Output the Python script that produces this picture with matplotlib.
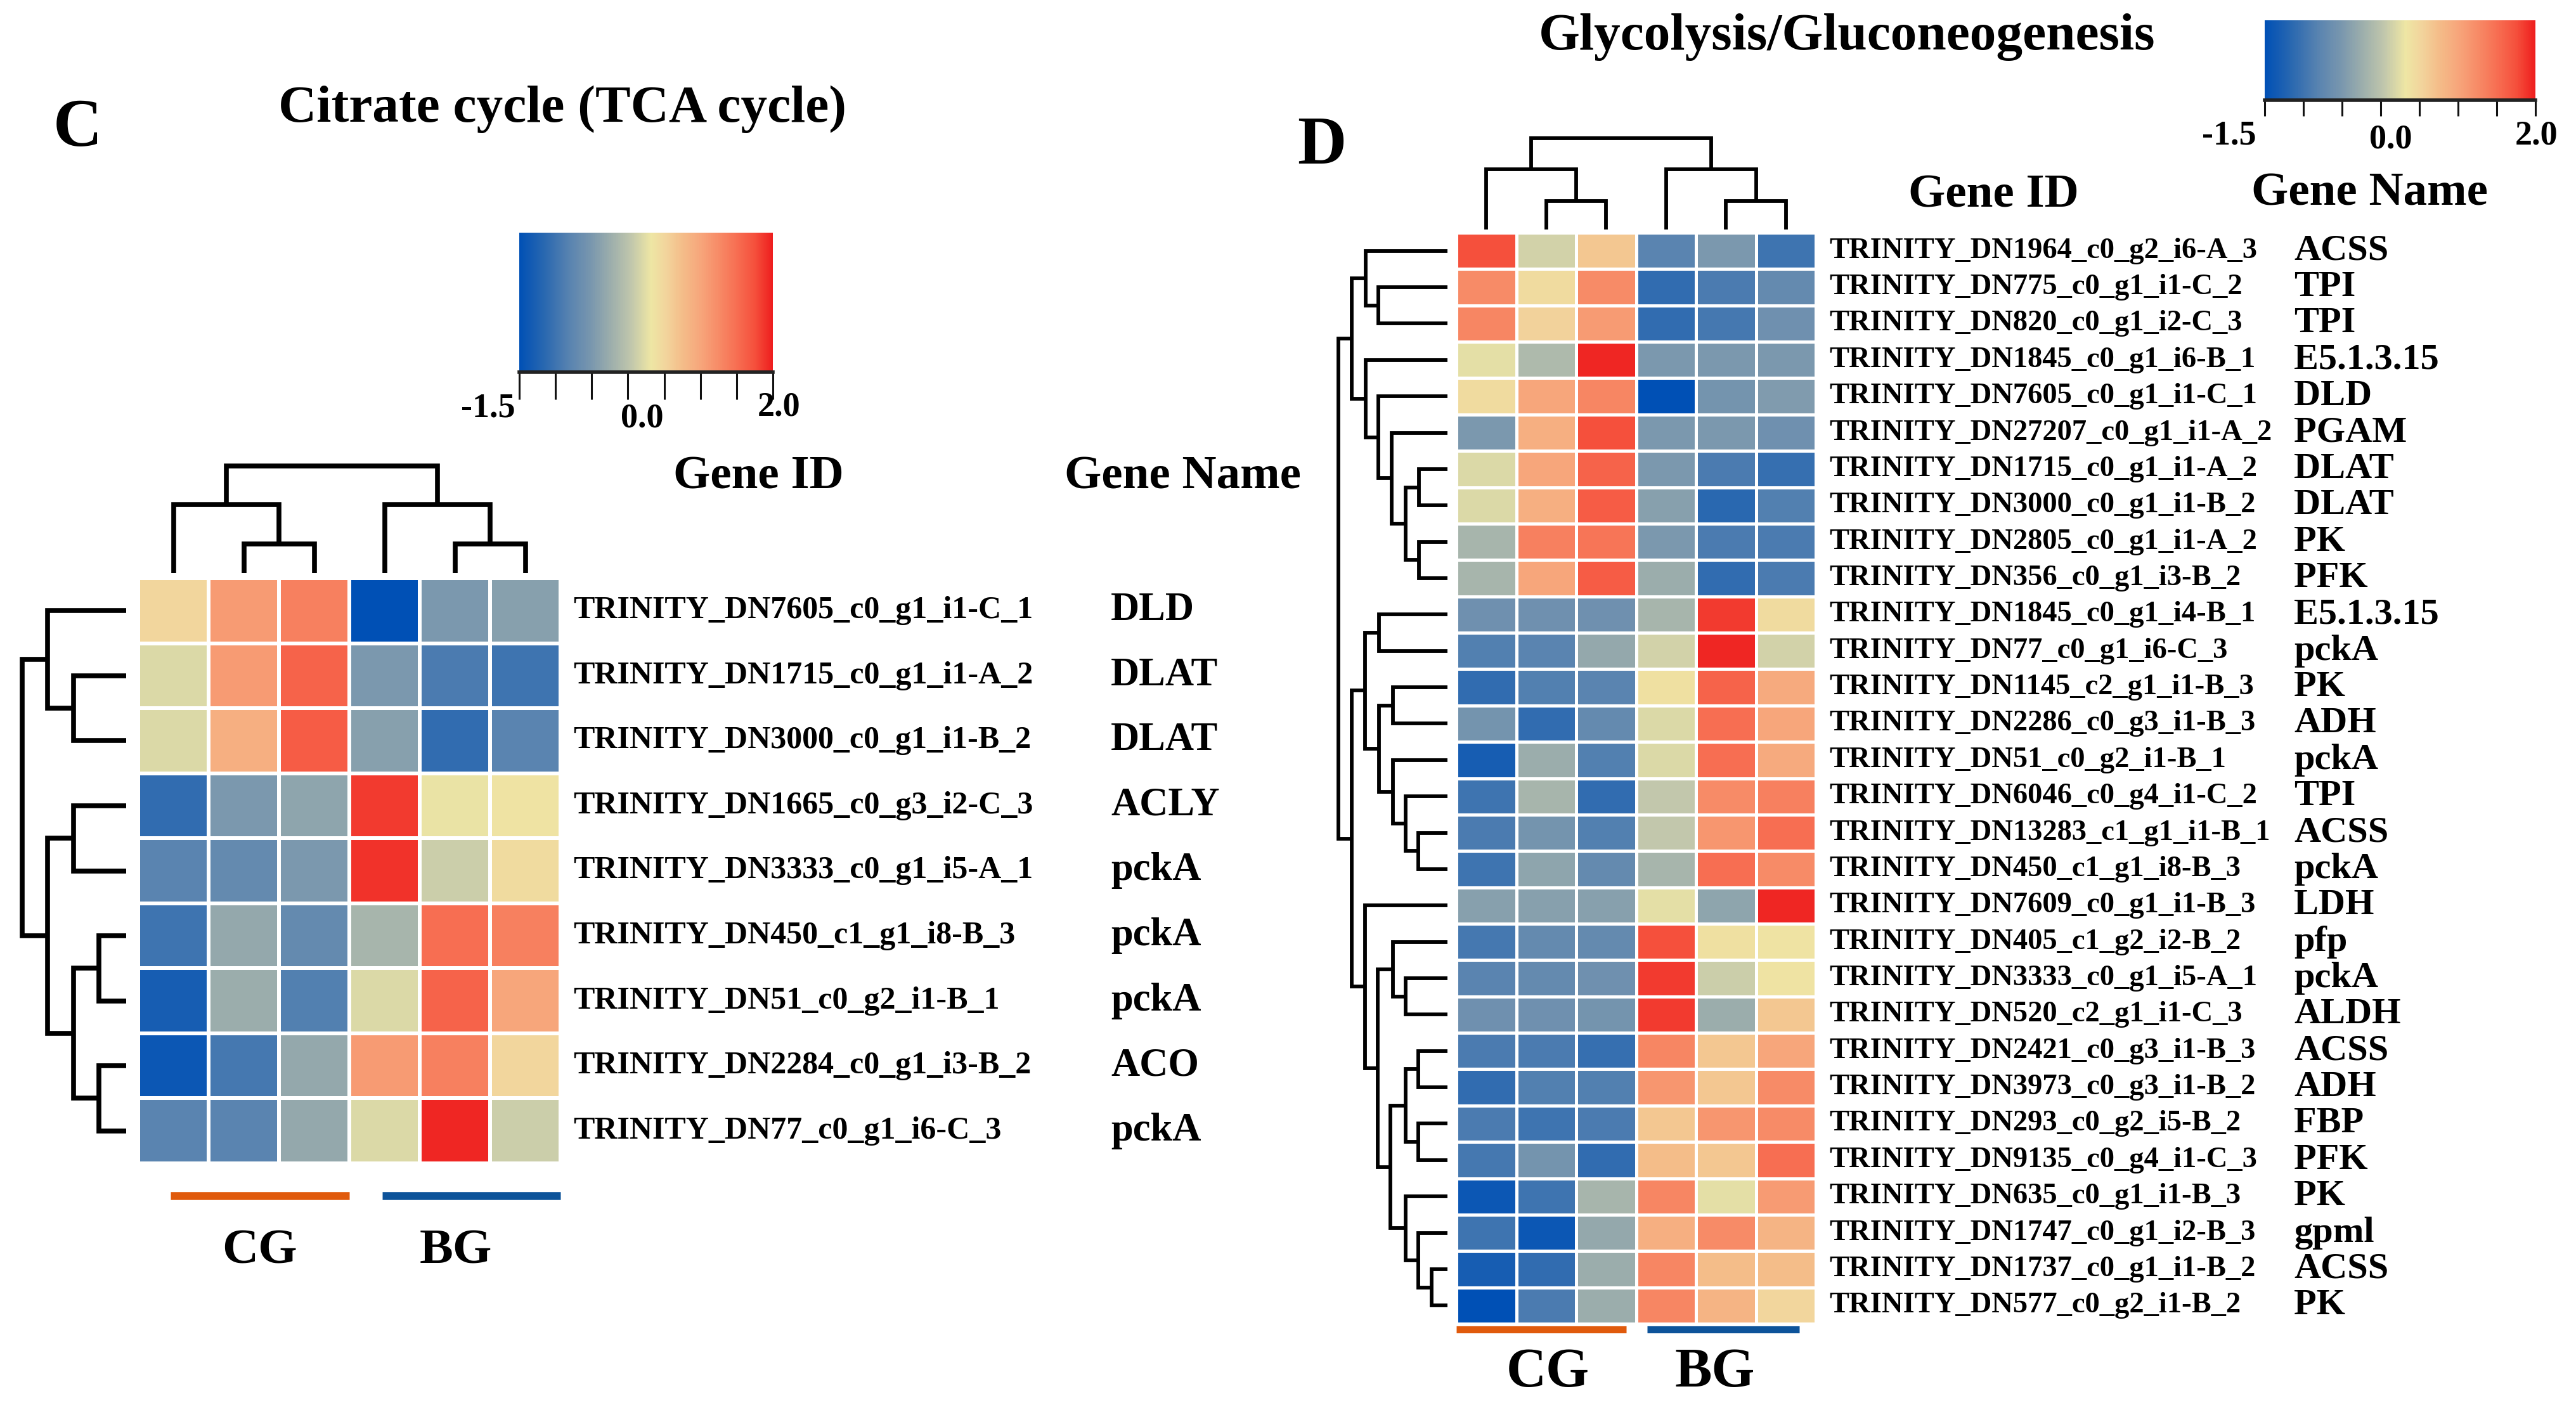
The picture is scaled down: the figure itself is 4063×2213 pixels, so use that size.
import numpy as np
import matplotlib
matplotlib.use("Agg")
import matplotlib.pyplot as plt
from matplotlib.colors import LinearSegmentedColormap, Normalize
from matplotlib.cm import ScalarMappable

W, H = 4063, 2213
DPI = 100

plt.rcParams["font.family"] = ["Liberation Serif", "DejaVu Serif"]
plt.rcParams["font.weight"] = "bold"

# ---------------- data ----------------
groups = ["CG", "BG"]

tca_ids = [
    "TRINITY_DN7605_c0_g1_i1-C_1", "TRINITY_DN1715_c0_g1_i1-A_2", "TRINITY_DN3000_c0_g1_i1-B_2",
    "TRINITY_DN1665_c0_g3_i2-C_3", "TRINITY_DN3333_c0_g1_i5-A_1", "TRINITY_DN450_c1_g1_i8-B_3",
    "TRINITY_DN51_c0_g2_i1-B_1", "TRINITY_DN2284_c0_g1_i3-B_2", "TRINITY_DN77_c0_g1_i6-C_3",
]
tca_names = ["DLD", "DLAT", "DLAT", "ACLY", "pckA", "pckA", "pckA", "ACO", "pckA"]
tca_values = [
    [0.50, 1.10, 1.35, -1.50, -0.50, -0.40],
    [0.20, 1.10, 1.60, -0.50, -0.90, -1.00],
    [0.20, 0.90, 1.65, -0.40, -1.10, -0.80],
    [-1.10, -0.50, -0.35, 1.85, 0.30, 0.35],
    [-0.80, -0.70, -0.50, 1.90, 0.10, 0.45],
    [-1.00, -0.30, -0.70, -0.15, 1.50, 1.35],
    [-1.30, -0.25, -0.85, 0.20, 1.60, 1.00],
    [-1.40, -0.95, -0.30, 1.10, 1.35, 0.50],
    [-0.80, -0.80, -0.30, 0.20, 1.95, 0.10],
]

glyco_ids = [
    "TRINITY_DN1964_c0_g2_i6-A_3", "TRINITY_DN775_c0_g1_i1-C_2", "TRINITY_DN820_c0_g1_i2-C_3",
    "TRINITY_DN1845_c0_g1_i6-B_1", "TRINITY_DN7605_c0_g1_i1-C_1", "TRINITY_DN27207_c0_g1_i1-A_2",
    "TRINITY_DN1715_c0_g1_i1-A_2", "TRINITY_DN3000_c0_g1_i1-B_2", "TRINITY_DN2805_c0_g1_i1-A_2",
    "TRINITY_DN356_c0_g1_i3-B_2", "TRINITY_DN1845_c0_g1_i4-B_1", "TRINITY_DN77_c0_g1_i6-C_3",
    "TRINITY_DN1145_c2_g1_i1-B_3", "TRINITY_DN2286_c0_g3_i1-B_3", "TRINITY_DN51_c0_g2_i1-B_1",
    "TRINITY_DN6046_c0_g4_i1-C_2", "TRINITY_DN13283_c1_g1_i1-B_1", "TRINITY_DN450_c1_g1_i8-B_3",
    "TRINITY_DN7609_c0_g1_i1-B_3", "TRINITY_DN405_c1_g2_i2-B_2", "TRINITY_DN3333_c0_g1_i5-A_1",
    "TRINITY_DN520_c2_g1_i1-C_3", "TRINITY_DN2421_c0_g3_i1-B_3", "TRINITY_DN3973_c0_g3_i1-B_2",
    "TRINITY_DN293_c0_g2_i5-B_2", "TRINITY_DN9135_c0_g4_i1-C_3", "TRINITY_DN635_c0_g1_i1-B_3",
    "TRINITY_DN1747_c0_g1_i2-B_3", "TRINITY_DN1737_c0_g1_i1-B_2", "TRINITY_DN577_c0_g2_i1-B_2",
]
glyco_names = [
    "ACSS", "TPI", "TPI", "E5.1.3.15", "DLD", "PGAM", "DLAT", "DLAT", "PK", "PFK",
    "E5.1.3.15", "pckA", "PK", "ADH", "pckA", "TPI", "ACSS", "pckA", "LDH", "pfp",
    "pckA", "ALDH", "ACSS", "ADH", "FBP", "PFK", "PK", "gpml", "ACSS", "PK",
]
glyco_values = [
    [1.75, 0.15, 0.65, -0.80, -0.50, -1.00],
    [1.25, 0.45, 1.25, -1.10, -0.90, -0.70],
    [1.30, 0.55, 1.10, -1.10, -0.95, -0.60],
    [0.25, -0.10, 1.95, -0.50, -0.50, -0.50],
    [0.45, 1.00, 1.30, -1.50, -0.55, -0.45],
    [-0.50, 0.90, 1.75, -0.50, -0.50, -0.60],
    [0.20, 1.00, 1.60, -0.50, -0.90, -1.05],
    [0.20, 0.90, 1.65, -0.40, -1.15, -0.85],
    [-0.15, 1.35, 1.45, -0.50, -0.90, -0.90],
    [-0.15, 1.00, 1.65, -0.25, -1.10, -0.90],
    [-0.60, -0.60, -0.60, -0.15, 1.85, 0.45],
    [-0.85, -0.80, -0.30, 0.15, 1.95, 0.15],
    [-1.10, -0.85, -0.80, 0.40, 1.60, 0.95],
    [-0.55, -1.10, -0.70, 0.20, 1.50, 1.00],
    [-1.30, -0.25, -0.85, 0.20, 1.50, 0.95],
    [-1.00, -0.15, -1.10, 0.05, 1.25, 1.35],
    [-0.90, -0.55, -0.85, 0.05, 1.15, 1.50],
    [-1.00, -0.35, -0.70, -0.15, 1.50, 1.25],
    [-0.40, -0.40, -0.40, 0.25, -0.35, 1.95],
    [-0.95, -0.70, -0.70, 1.75, 0.40, 0.35],
    [-0.80, -0.70, -0.60, 1.85, 0.10, 0.35],
    [-0.60, -0.60, -0.55, 1.85, -0.25, 0.65],
    [-0.90, -0.90, -1.05, 1.30, 0.65, 1.00],
    [-1.10, -0.85, -0.85, 1.15, 0.65, 1.25],
    [-0.90, -1.00, -0.90, 0.65, 1.15, 1.25],
    [-0.95, -0.55, -1.10, 0.75, 0.65, 1.50],
    [-1.40, -1.00, -0.15, 1.30, 0.25, 1.10],
    [-1.00, -1.40, -0.30, 0.90, 1.25, 0.85],
    [-1.30, -1.10, -0.25, 1.30, 0.75, 0.75],
    [-1.50, -0.90, -0.25, 1.30, 0.85, 0.50],
]

# dendrograms as (height, left, right); ints are leaf indices in display order
tca_row_tree = (164, (124, 0, (83, 1, 2)), (124, (83, 3, 4), (83, (43, 5, 6), (43, 7, 8))))
tca_col_tree = (169, (108, 0, (46, 1, 2)), (108, 3, (46, 4, 5)))
glyco_col_tree = (144, (95, 0, (45, 1, 2)), (95, 3, (45, 4, 5)))
glyco_row_tree = (
    172,
    (151, (129, 0, (109, 1, 2)),
          (129, 3, (109, 4, (88, 5, (66, (45, 6, 7), (45, 8, 9)))))),
    (151, (130, (108, 10, 11), (108, (86, 12, 13), (86, 14, (66, 15, (46, 16, 17))))),
          (130, 18, (110, (86, 19, (66, 20, 21)),
                         (90, (66, (46, 22, 23), (46, 24, 25)),
                              (66, 26, (46, 27, (25, 28, 29))))))),
)

vmin, vmax = -1.5, 2.0
cbar_labels = [-1.5, 0.0, 2.0]

cmap = LinearSegmentedColormap.from_list("bgyr", [
    (0.00, "#0050B5"), (0.10, "#2A68B0"), (0.20, "#5A84B0"), (0.28, "#7896AE"),
    (0.36, "#9CAEAC"), (0.44, "#C0C6AC"), (0.52, "#EEE6A4"), (0.58, "#F2D49C"),
    (0.64, "#F4BE8A"), (0.72, "#F7A47A"), (0.79, "#F78A66"), (0.86, "#F76E52"),
    (0.93, "#F5503C"), (1.00, "#EE1E1E"),
])
norm = Normalize(vmin, vmax)

fig = plt.figure(figsize=(W / DPI, H / DPI), dpi=DPI)


def px_axes(x0, y0, x1, y1):
    return fig.add_axes([x0 / W, 1 - y1 / H, (x1 - x0) / W, (y1 - y0) / H])


def px_text(x, y, s, size, ha="center", va="center"):
    fig.text(x / W, 1 - y / H, s, fontsize=size, ha=ha, va=va, fontweight="bold")


def draw_tree(ax, node, orient, lw):
    if isinstance(node, int):
        return node + 0.5, 0
    h, a, b = node
    pa, ha = draw_tree(ax, a, orient, lw)
    pb, hb = draw_tree(ax, b, orient, lw)
    if orient == "row":
        xs, ys = [ha, h, h, hb], [pa, pa, pb, pb]
    else:
        xs, ys = [pa, pa, pb, pb], [ha, h, h, hb]
    ax.plot(xs, ys, color="black", lw=lw, solid_capstyle="butt",
            solid_joinstyle="miter", clip_on=False)
    return (pa + pb) / 2, h


def panel(values, ids, names, row_tree, col_tree, box, rd_x0, cd_y0, lw_tree, lw_grid,
          id_x, name_x, id_size, name_size, bar_y, bar_spans, grp_xy, grp_size):
    values = np.array(values)
    nr, nc = values.shape
    x0, y0, x1, y1 = box
    ax = px_axes(x0, y0, x1, y1)
    ax.pcolormesh(values, cmap=cmap, norm=norm, edgecolors="white", linewidth=lw_grid)
    ax.set_xlim(0, nc)
    ax.set_ylim(nr, 0)
    ax.axis("off")

    # row dendrogram
    rax = px_axes(rd_x0, y0, rd_x0 + row_tree[0], y1)
    draw_tree(rax, row_tree, "row", lw_tree)
    rax.set_xlim(row_tree[0], 0)
    rax.set_ylim(nr, 0)
    rax.axis("off")

    # column dendrogram
    cax = px_axes(x0, cd_y0, x1, cd_y0 + col_tree[0])
    draw_tree(cax, col_tree, "col", lw_tree)
    cax.set_xlim(0, nc)
    cax.set_ylim(0, col_tree[0])
    cax.axis("off")

    rh = (y1 - y0) / nr
    for i, (gid, gname) in enumerate(zip(ids, names)):
        yc = y0 + rh * (i + 0.5)
        px_text(id_x, yc, gid, id_size, ha="left")
        px_text(name_x, yc, gname, name_size, ha="left")

    colors = ["#E05A0C", "#0D539A"]
    for (a, b), col, g, (gx, gy) in zip(bar_spans, colors, groups, grp_xy):
        ax.plot([a, b], [bar_y, bar_y], color=col, lw=9 if nr < 20 else 8,
                solid_capstyle="butt", clip_on=False)
        px_text(gx, gy, g, grp_size)


def colorbar(box, tick_len, label_pos):
    x0, y0, x1, y1 = box
    ax = px_axes(x0, y0, x1, y1)
    cb = fig.colorbar(ScalarMappable(norm=norm, cmap=cmap), cax=ax, orientation="horizontal")
    cb.outline.set_visible(False)
    ax.set_xticks(np.linspace(vmin, vmax, 8))
    ax.set_xticklabels([])
    ax.tick_params(axis="x", length=tick_len, width=2.2, direction="out", color="#111111")
    ax.plot([0, 1], [0, 0], transform=ax.transAxes, color="#222222", lw=4, clip_on=False)
    for v, (dx, y, ha) in zip(cbar_labels, label_pos):
        xp = x0 + (v - vmin) / (vmax - vmin) * (x1 - x0) + dx
        px_text(xp, y, f"{v:.1f}", 39, ha=ha)


# ---------------- left panel (C) ----------------
panel(tca_values, tca_ids, tca_names, tca_row_tree, tca_col_tree,
      box=(218, 912, 884, 1835), rd_x0=35, cd_y0=735, lw_tree=5.5, lw_grid=3.0,
      id_x=904, name_x=1752, id_size=36, name_size=45,
      bar_y=9.5, bar_spans=[(0.46, 3.0), (3.47, 6.0)],
      grp_xy=[(409, 1974), (719, 1974)], grp_size=57)
colorbar((819, 367, 1219, 587), 31, [(-6, 645, "right"), (22, 660, "center"), (10, 643, "center")])
px_text(122, 204, "C", 77)
px_text(887, 172, "Citrate cycle (TCA cycle)", 60)
px_text(1196, 753, "Gene ID", 54)
px_text(1865, 753, "Gene Name", 54)

# ---------------- right panel (D) ----------------
panel(glyco_values, glyco_ids, glyco_names, glyco_row_tree, glyco_col_tree,
      box=(2297, 367, 2864, 2088), rd_x0=2111, cd_y0=218, lw_tree=4.2, lw_grid=2.2,
      id_x=2885, name_x=3618, id_size=33.5, name_size=42,
      bar_y=30.15, bar_spans=[(0.0, 2.84), (3.19, 5.73)],
      grp_xy=[(2441, 2165), (2705, 2165)], grp_size=63)
colorbar((3572, 32, 3999, 158), 18, [(-13, 215, "right"), (16, 220, "center"), (2, 214, "center")])
px_text(2085, 232, "D", 77)
px_text(2913, 58, "Glycolysis/Gluconeogenesis", 60)
px_text(3144, 308, "Gene ID", 54)
px_text(3737, 306, "Gene Name", 54)

fig.savefig("out.png", dpi=DPI)
